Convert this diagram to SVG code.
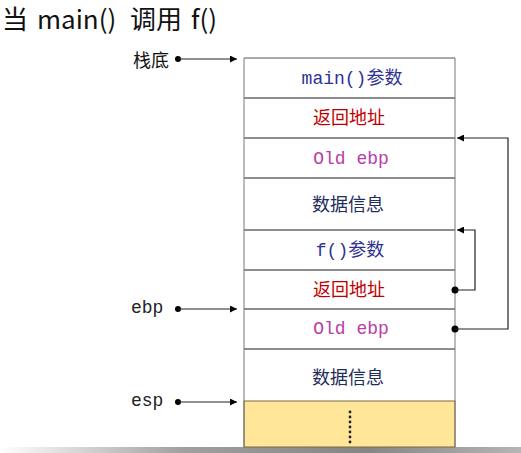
<svg xmlns="http://www.w3.org/2000/svg" width="521" height="453" viewBox="0 0 521 453">
<defs>
<marker id="ah" viewBox="0 0 10 10" refX="10" refY="5" markerWidth="7" markerHeight="7" markerUnits="userSpaceOnUse" orient="auto">
<path d="M0,0 L10,5 L0,10 z" fill="#000"/>
</marker>
<linearGradient id="bar" x1="0" y1="0" x2="1" y2="0">
<stop offset="0" stop-color="#ffffff"/>
<stop offset="0.35" stop-color="#a0a0a0"/>
<stop offset="0.7" stop-color="#858585"/>
<stop offset="1" stop-color="#b5b5b5"/>
</linearGradient>
<style>
.cell{fill:#fff;stroke:none}
.hl{stroke:#1a1a1a;stroke-width:1}
.mono{font-family:"Liberation Mono","Noto Sans CJK SC",monospace;font-size:18px;text-anchor:middle}
.cjk{font-family:"Noto Sans CJK SC",sans-serif;font-size:18px;text-anchor:middle}
.blue{fill:#2e3192}
.red{fill:#c00000}
.mag{fill:#b83da8}
.navy{fill:#1f2d5c}
.lbl{font-family:"Liberation Mono",monospace;font-size:18px;fill:#222}
.conn{fill:none;stroke:#222;stroke-width:1.2}
</style>
</defs>
<rect width="521" height="453" fill="#fff"/>
<rect x="0" y="447" width="521" height="6" fill="url(#bar)"/>
<text x="2" y="29" font-family="'Noto Sans CJK SC',sans-serif" font-size="26" fill="#111"><tspan x="2">当</tspan><tspan x="37">main()</tspan><tspan x="130">调用</tspan><tspan x="191">f()</tspan></text>

<g id="cell-main-args"><rect class="cell" x="244" y="58" width="211" height="40"/><text class="mono blue" x="352" y="84">main()<tspan style="font-family:'Noto Sans CJK SC',sans-serif">参数</tspan></text></g>
<g id="cell-ret1"><line class="hl" x1="244" y1="98" x2="455" y2="98"/><text class="cjk red" x="349" y="124">返回地址</text></g>
<g id="cell-oldebp1"><line class="hl" x1="244" y1="138" x2="455" y2="138"/><text class="mono mag" x="351" y="164">Old ebp</text></g>
<g id="cell-data1"><line class="hl" x1="244" y1="178" x2="455" y2="178"/><text class="cjk navy" x="348" y="211">数据信息</text></g>
<g id="cell-f-args"><line class="hl" x1="244" y1="230" x2="455" y2="230"/><text class="mono blue" x="350" y="256">f()<tspan style="font-family:'Noto Sans CJK SC',sans-serif">参数</tspan></text></g>
<g id="cell-ret2"><line class="hl" x1="244" y1="270" x2="455" y2="270"/><text class="cjk red" x="349" y="296">返回地址</text></g>
<g id="cell-oldebp2"><line class="hl" x1="244" y1="309" x2="455" y2="309"/><text class="mono mag" x="351" y="334">Old ebp</text></g>
<g id="cell-data2"><line class="hl" x1="244" y1="349" x2="455" y2="349"/><text class="cjk navy" x="348" y="384">数据信息</text></g>
<g id="cell-free"><rect x="244" y="401" width="211" height="46" fill="#ffe699" stroke="#7a6a3a" stroke-width="1"/>
<g fill="#222"><circle cx="350" cy="412" r="1.4"/><circle cx="350" cy="417" r="1.4"/><circle cx="350" cy="422" r="1.4"/><circle cx="350" cy="427" r="1.4"/><circle cx="350" cy="432" r="1.4"/><circle cx="350" cy="437" r="1.4"/><circle cx="350" cy="442" r="1.4"/></g></g>
<g id="stack-frame"><line x1="244" y1="58" x2="455" y2="58" stroke="#555"/><line x1="244" y1="58" x2="244" y2="447" stroke="#777"/><line x1="455" y1="58" x2="455" y2="447" stroke="#777"/></g>

<g id="label-bottom"><text x="133" y="67" font-family="'Noto Sans CJK SC',sans-serif" font-size="18" fill="#111">栈底</text></g>
<g id="label-ebp"><text class="lbl" x="131" y="313">ebp</text></g>
<g id="label-esp"><text class="lbl" x="131" y="406">esp</text></g>

<g id="connectors">
<circle cx="178" cy="59" r="3"/><line class="conn" x1="178" y1="59" x2="237" y2="59" marker-end="url(#ah)"/>
<circle cx="178" cy="309" r="3"/><line class="conn" x1="178" y1="309" x2="237" y2="309" marker-end="url(#ah)"/>
<circle cx="178" cy="402" r="3"/><line class="conn" x1="178" y1="402" x2="237" y2="402" marker-end="url(#ah)"/>
<circle cx="455" cy="290" r="3.5"/><polyline class="conn" points="455,290 475,290 475,230 457,230" marker-end="url(#ah)"/>
<circle cx="455" cy="329" r="3.5"/><polyline class="conn" points="455,329 508,329 508,138 457,138" marker-end="url(#ah)"/>
</g>
</svg>
